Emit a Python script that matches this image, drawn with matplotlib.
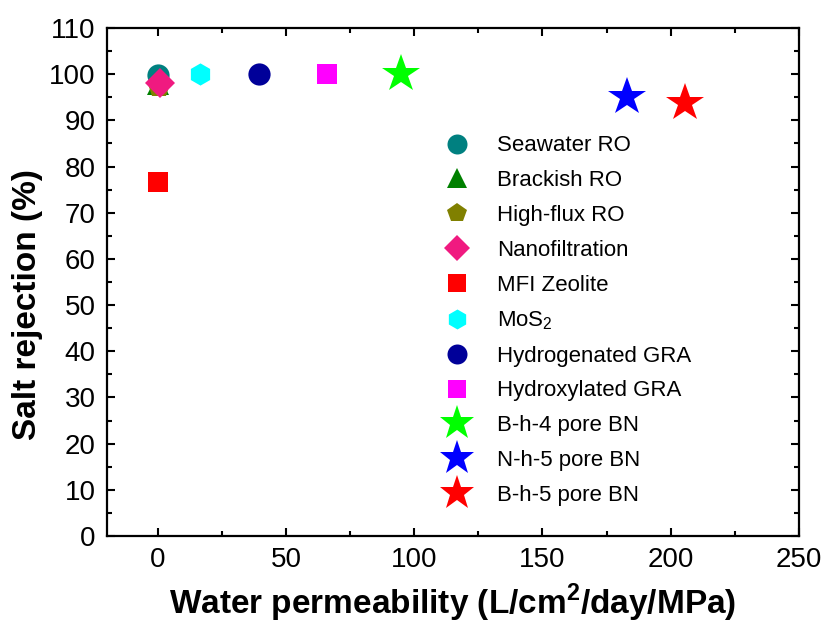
import matplotlib
matplotlib.use("Agg")
import matplotlib.pyplot as plt
from matplotlib.ticker import MultipleLocator

plt.rcParams['font.family'] = ['Liberation Sans', 'DejaVu Sans']
plt.rcParams['mathtext.fontset'] = 'custom'
plt.rcParams['mathtext.rm'] = 'Liberation Sans'
plt.rcParams['mathtext.bf'] = 'Liberation Sans:bold'

labels = ["Seawater RO", "Brackish RO", "High-flux RO", "Nanofiltration",
          "MFI Zeolite", "MoS$_2$", "Hydrogenated GRA", "Hydroxylated GRA",
          "B-h-4 pore BN", "N-h-5 pore BN", "B-h-5 pore BN"]
permeability = [0.1, 0.05, 0.5, 0.8, 0.0, 16.3, 39.3, 66.1, 95.0, 182.8, 205.4]
rejection = [99.8, 97.8, 97.2, 98.0, 76.6, 100.0, 100.0, 100.0, 100.0, 95.0, 93.8]
markers = ['o', '^', 'p', 'D', 's', 'h', 'o', 's', '*', '*', '*']
colors = ['#008080', '#008000', '#808000', '#F01A80', '#FF0000', '#00FFFF',
          '#000099', '#FF00FF', '#00FF00', '#0000FF', '#FF0000']
sizes = [16, 16, 16, 15, 14, 16, 16, 14, 29, 29, 29]

fig = plt.figure(figsize=(8.27, 6.25), dpi=100)
ax = fig.add_axes([0.1288, 0.1424, 0.8372, 0.8128])

for x, y, m, c, s, lab in zip(permeability, rejection, markers, colors, sizes, labels):
    ax.plot([x], [y], linestyle='none', marker=m, color=c, markersize=s,
            markeredgewidth=0, label=lab)

ax.set_xlim(-20, 250)
ax.set_ylim(0, 110)
ax.xaxis.set_major_locator(MultipleLocator(50))
ax.xaxis.set_minor_locator(MultipleLocator(25))
ax.yaxis.set_major_locator(MultipleLocator(10))
ax.yaxis.set_minor_locator(MultipleLocator(5))
ax.tick_params(which='both', direction='in', top=True, right=True, width=1.5)
ax.tick_params(which='major', length=6, labelsize=20, pad=8)
ax.tick_params(which='minor', length=3.5)
for sp in ax.spines.values():
    sp.set_linewidth(1.6)

ax.set_xlabel("Water permeability (L/cm$^\\mathbf{2}$/day/MPa)", fontsize=24,
              fontweight='bold', labelpad=6)
ax.set_ylabel("Salt rejection (%)", fontsize=24, fontweight='bold')
ax.yaxis.set_label_coords(-0.092, 0.455)

ax.legend(loc='upper left', bbox_to_anchor=(0.461, 0.806), frameon=False,
          fontsize=16, labelspacing=0.62, handletextpad=0.8, numpoints=1,
          borderaxespad=0, markerscale=0.9)

fig.savefig("out.png", dpi=100)
